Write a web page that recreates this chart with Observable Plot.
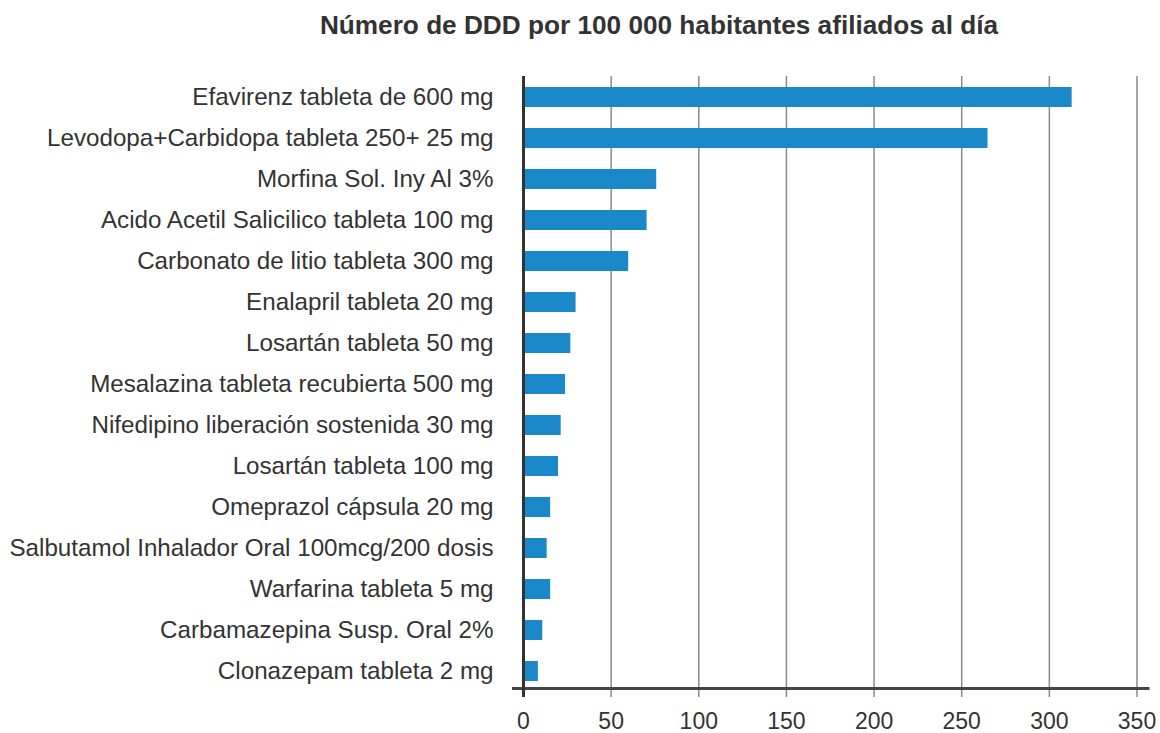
<!DOCTYPE html>
<html>
<head>
<meta charset="utf-8">
<script src="https://cdn.jsdelivr.net/npm/d3@7"></script>
<script src="https://cdn.jsdelivr.net/npm/@observablehq/plot@0.6"></script>
<style>
  body { margin: 0; background: #fff; font-family: "Liberation Sans", Arial, Helvetica, sans-serif; }
  #title { height: 50px; line-height: 50px; text-align: center; padding-left: 158px; font-weight: bold; font-size: 26.2px; color: #333; white-space: nowrap; }
</style>
</head>
<body>
<div id="title">Número de DDD por 100 000 habitantes afiliados al día</div>
<div id="chart"></div>
<script>
const medicamentos = [
  "Efavirenz tableta de 600 mg",
  "Levodopa+Carbidopa tableta 250+ 25 mg",
  "Morfina Sol. Iny Al 3%",
  "Acido Acetil Salicilico tableta 100 mg",
  "Carbonato de litio tableta 300 mg",
  "Enalapril tableta 20 mg",
  "Losartán tableta 50 mg",
  "Mesalazina tableta recubierta 500 mg",
  "Nifedipino liberación sostenida 30 mg",
  "Losartán tableta 100 mg",
  "Omeprazol cápsula 20 mg",
  "Salbutamol Inhalador Oral 100mcg/200 dosis",
  "Warfarina tableta 5 mg",
  "Carbamazepina Susp. Oral 2%",
  "Clonazepam tableta 2 mg"
];
const ddd = [313, 265, 76, 70.5, 60, 30, 27, 24, 21.5, 20, 15.5, 13.5, 15.5, 11, 8.5];
const xTicks = [0, 50, 100, 150, 200, 250, 300, 350];

const data = medicamentos.map((m, i) => ({m, v: ddd[i]}));

const chart = Plot.plot({
  width: 1160,
  height: 683,
  marginLeft: 523,
  marginRight: 23.5,
  marginTop: 30,
  marginBottom: 45,
  style: {fontFamily: "'Liberation Sans', Arial, Helvetica, sans-serif", color: "#333", background: "#fff", overflow: "visible"},
  x: {domain: [0, 350], ticks: xTicks},
  y: {domain: medicamentos, paddingInner: 0.512, paddingOuter: 0.17, label: null},
  marks: [
    Plot.ruleX(xTicks.filter(d => d > 0), {stroke: "#8a8a8a", strokeWidth: 1.5, insetTop: -4, insetBottom: -9}),
    Plot.barX(data, {x: "v", y: "m", fill: "#1b88ca"}),
    Plot.frame({anchor: "bottom", stroke: "#444", strokeWidth: 3, insetLeft: -10, insetRight: -11}),
    Plot.ruleX([0], {stroke: "#333", strokeWidth: 3, insetTop: -4, insetBottom: -9}),
    Plot.axisY({tickSize: 0, tickPadding: 30, fontSize: 24.2, label: null, fill: "#333"}),
    Plot.axisX({ticks: xTicks, tickSize: 0, tickPadding: 24, fontSize: 23, label: null, fill: "#333"})
  ]
});
document.getElementById("chart").appendChild(chart);
</script>
</body>
</html>
